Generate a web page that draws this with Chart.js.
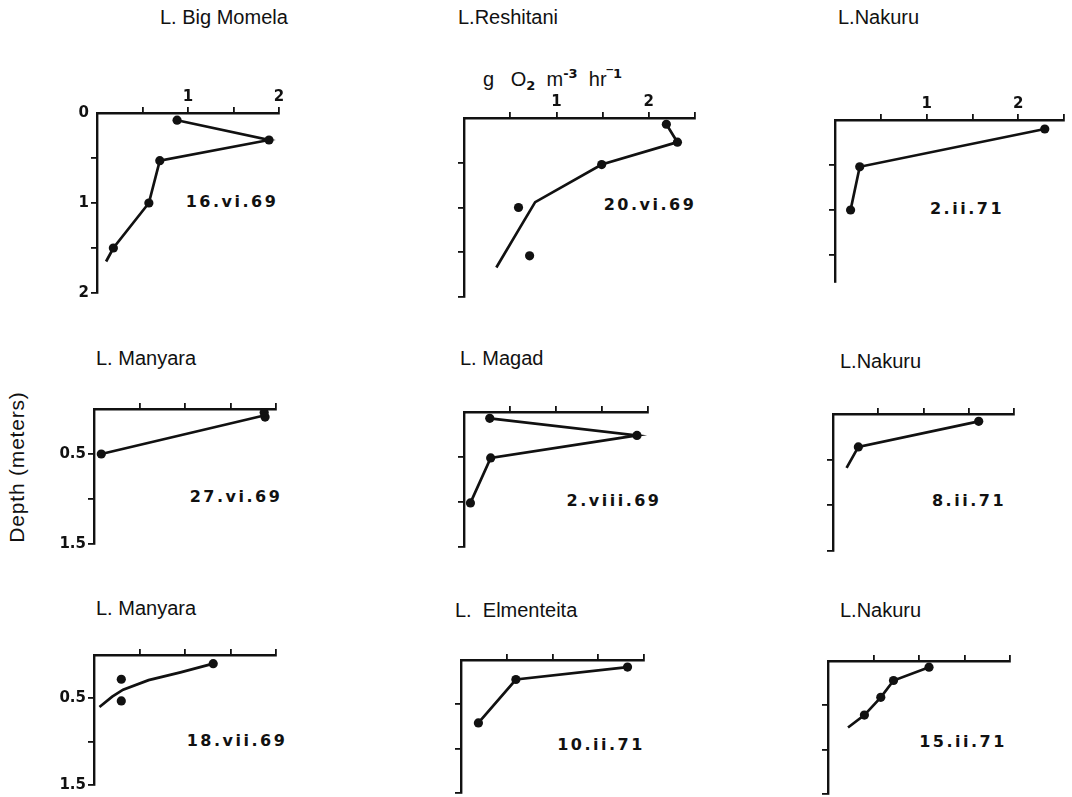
<!DOCTYPE html>
<html>
<head>
<meta charset="utf-8">
<title>Oxygen production profiles, East African lakes</title>
<script src="https://cdn.jsdelivr.net/npm/chart.js@4.4.1/dist/chart.umd.min.js"></script>
<style>
  html, body { margin: 0; padding: 0; background: #fff; }
  #fig { position: relative; width: 1072px; height: 797px; overflow: hidden; background: #fff; }
  #fig canvas { position: absolute; }
  .lake { position: absolute; font-family: "Liberation Sans", Arial, sans-serif; font-size: 20px;
          line-height: 24px; color: #111; white-space: pre; }
  .date { position: absolute; font-family: "DejaVu Sans", sans-serif; font-weight: bold; font-size: 16px;
          line-height: 20px; letter-spacing: 2.5px; color: #111; white-space: pre; transform: translateX(-50%); }
  #unit { position: absolute; left: 483px; top: 62px; font-family: "Liberation Sans", Arial, sans-serif;
          font-size: 20px; line-height: 24px; color: #111; white-space: pre; }
  #unit sub, #unit sup { font-family: "DejaVu Sans", sans-serif; font-weight: bold; font-size: 13px; }
  #unit sub { vertical-align: -4px; }
  #unit sup { vertical-align: 8px; }
  #depth { position: absolute; left: 17px; top: 467px; font-family: "Liberation Sans", Arial, sans-serif;
           font-size: 21px; line-height: 24px; letter-spacing: 0.8px; color: #111; white-space: pre;
           transform: translate(-50%, -50%) rotate(-90deg); }
</style>
</head>
<body>
<div id="fig">
  <div id="unit">g   O<sub>2</sub>  m<sup>-3</sup>  hr<sup>‾1</sup></div>
  <div id="depth">Depth (meters)</div>
</div>
<script>
// ---- panel labels -------------------------------------------------------
const lakeNames = ['L. Big Momela', 'L.Reshitani', 'L.Nakuru',
                   'L. Manyara', 'L. Magad', 'L.Nakuru',
                   'L. Manyara', 'L.  Elmenteita', 'L.Nakuru'];
const sampleDates = ['16.vi.69', '20.vi.69', '2.ii.71',
                     '27.vi.69', '2.viii.69', '8.ii.71',
                     '18.vii.69', '10.ii.71', '15.ii.71'];

// ---- axis extents and labelled ticks -----------------------------------
const rateMax  = [2, 2.5, 2.5, 2, 2, 2, 2, 2, 2];          // g O2 m-3 hr-1
const depthMax = [2, 2, 1.8, 1.5, 1.5, 1.5, 1.5, 1.5, 1.5]; // m
const rateTickLabels  = [[1, 2], [1, 2], [1, 2], [], [], [], [], [], []];
const depthTickLabels = [[0, 1, 2], [], [], [0.5, 1.5], [], [], [0.5, 1.5], [], []];

// ---- measurements [rate, depth] and drawn profile lines ----------------
const momelaDots   = [[0.88, 0.08], [1.89, 0.30], [0.69, 0.53], [0.57, 1.00], [0.18, 1.50]];
const momelaLine   = [[0.88, 0.08], [1.89, 0.30], [0.69, 0.53], [0.57, 1.00], [0.18, 1.50], [0.10, 1.65]];

const reshitaniDots = [[2.19, 0.07], [2.31, 0.27], [1.49, 0.52], [0.59, 1.00], [0.71, 1.54]];
const reshitaniLine = [[2.19, 0.07], [2.31, 0.27], [1.49, 0.52], [0.77, 0.94], [0.62, 1.20], [0.35, 1.67]];

const nakuru2iiDots = [[2.29, 0.10], [0.27, 0.52], [0.17, 1.00]];
const nakuru2iiLine = [[2.29, 0.10], [0.27, 0.52], [0.17, 1.00]];

const manyara27viDots = [[1.87, 0.04], [1.88, 0.09], [0.08, 0.50]];
const manyara27viLine = [[1.88, 0.07], [0.08, 0.50]];

const magadDots = [[0.28, 0.07], [1.88, 0.26], [0.29, 0.51], [0.07, 1.01]];
const magadLine = [[0.28, 0.07], [1.88, 0.26], [0.29, 0.51], [0.07, 1.01]];

const nakuru8iiDots = [[1.61, 0.08], [0.28, 0.36]];
const nakuru8iiLine = [[1.61, 0.08], [0.28, 0.36], [0.15, 0.59]];

const manyara18viiDots = [[1.31, 0.10], [0.30, 0.28], [0.30, 0.53]];
const manyara18viiLine = [[0.06, 0.60], [0.20, 0.48], [0.32, 0.40], [0.60, 0.29], [0.95, 0.20], [1.31, 0.10]];

const elmenteitaDots = [[1.82, 0.08], [0.60, 0.22], [0.19, 0.71]];
const elmenteitaLine = [[1.82, 0.08], [0.60, 0.22], [0.19, 0.71]];

const nakuru15iiDots = [[1.11, 0.07], [0.72, 0.22], [0.58, 0.41], [0.40, 0.61]];
const nakuru15iiLine = [[1.11, 0.07], [0.72, 0.22], [0.58, 0.41], [0.40, 0.61], [0.22, 0.75]];

const panelDots  = [momelaDots, reshitaniDots, nakuru2iiDots, manyara27viDots, magadDots,
                    nakuru8iiDots, manyara18viiDots, elmenteitaDots, nakuru15iiDots];
const panelLines = [momelaLine, reshitaniLine, nakuru2iiLine, manyara27viLine, magadLine,
                    nakuru8iiLine, manyara18viiLine, elmenteitaLine, nakuru15iiLine];

// ---- page layout: plot area of each panel (left, top, width, height) ---
const plotBoxes = [
  [97, 113, 182, 180], [464, 118, 231, 179], [835, 120, 229, 162],
  [94, 409, 182, 135], [464, 412, 184, 135], [833, 414, 181, 137],
  [94, 655, 182, 130], [461, 660, 183, 133], [828, 661, 182, 133]
];
const lakePos = [[160, 17], [458, 17], [838, 17], [96, 358], [460, 358], [840, 361],
                 [96, 608], [455, 610], [840, 610]];
const datePos = [[232, 202], [650, 205], [967, 209], [236, 497], [614, 501], [969, 501],
                 [237, 741], [601, 745], [963, 742]];

const AXIS_W = 50, AXIS_H = 30, PAD_R = 12, PAD_B = 14;
const INK = '#111';
const fig = document.getElementById('fig');

const onHalfStep = v => Math.abs(v * 2 - Math.round(v * 2)) < 1e-6;
const tickInk = c => (c.tick && c.tick.value !== 0 && onHalfStep(c.tick.value)) ? INK : 'rgba(0,0,0,0)';
const toXY = arr => arr.map(p => ({ x: p[0], y: p[1] }));
const labelFor = list => v => list.some(t => Math.abs(t - v) < 1e-6) ? String(v) : '';
const tickFont = { family: 'DejaVu Sans', weight: 'bold', size: 15 };

lakeNames.forEach((name, i) => {
  const t = document.createElement('div');
  t.className = 'lake';
  t.textContent = name;
  t.style.left = lakePos[i][0] + 'px';
  t.style.top = (lakePos[i][1] - 12) + 'px';
  fig.appendChild(t);

  const d = document.createElement('div');
  d.className = 'date';
  d.textContent = sampleDates[i];
  d.style.left = datePos[i][0] + 'px';
  d.style.top = (datePos[i][1] - 10) + 'px';
  fig.appendChild(d);

  const [L, T, W, H] = plotBoxes[i];
  const cv = document.createElement('canvas');
  const cw = AXIS_W + W + PAD_R, ch = AXIS_H + H + PAD_B;
  cv.width = cw; cv.height = ch;
  cv.style.width = cw + 'px'; cv.style.height = ch + 'px';
  cv.style.left = (L - AXIS_W) + 'px';
  cv.style.top = (T - AXIS_H) + 'px';
  fig.appendChild(cv);

  new Chart(cv, {
    type: 'scatter',
    data: {
      datasets: [
        { data: toXY(panelLines[i]), showLine: true, borderColor: INK, borderWidth: 2.7,
          pointRadius: 0, tension: 0, clip: false },
        { data: toXY(panelDots[i]), showLine: false, pointRadius: 4.6, pointBorderWidth: 0,
          pointBackgroundColor: INK, pointBorderColor: INK, clip: false }
      ]
    },
    options: {
      responsive: false,
      animation: false,
      devicePixelRatio: 1,
      layout: { autoPadding: false, padding: { left: 0, top: 0, right: PAD_R, bottom: PAD_B } },
      plugins: { legend: { display: false }, tooltip: { enabled: false } },
      events: [],
      scales: {
        x: {
          type: 'linear', position: 'top', min: 0, max: rateMax[i],
          afterFit: s => { s.height = AXIS_H; },
          ticks: { stepSize: 0.5, autoSkip: false, maxRotation: 0, padding: 1, color: INK,
                   font: tickFont, callback: labelFor(rateTickLabels[i]) },
          grid: { drawOnChartArea: false, drawTicks: true, tickLength: 6, lineWidth: 1.8, color: tickInk },
          border: { display: true, color: INK, width: 2.4 }
        },
        y: {
          type: 'linear', position: 'left', reverse: true, min: 0, max: depthMax[i],
          afterFit: s => { s.width = AXIS_W; },
          ticks: { stepSize: 0.5, autoSkip: false, padding: 2, color: INK,
                   font: tickFont, callback: labelFor(depthTickLabels[i]) },
          grid: { drawOnChartArea: false, drawTicks: true, tickLength: 6, lineWidth: 1.8, color: tickInk },
          border: { display: true, color: INK, width: 2.4 }
        }
      }
    }
  });
});
</script>
</body>
</html>
